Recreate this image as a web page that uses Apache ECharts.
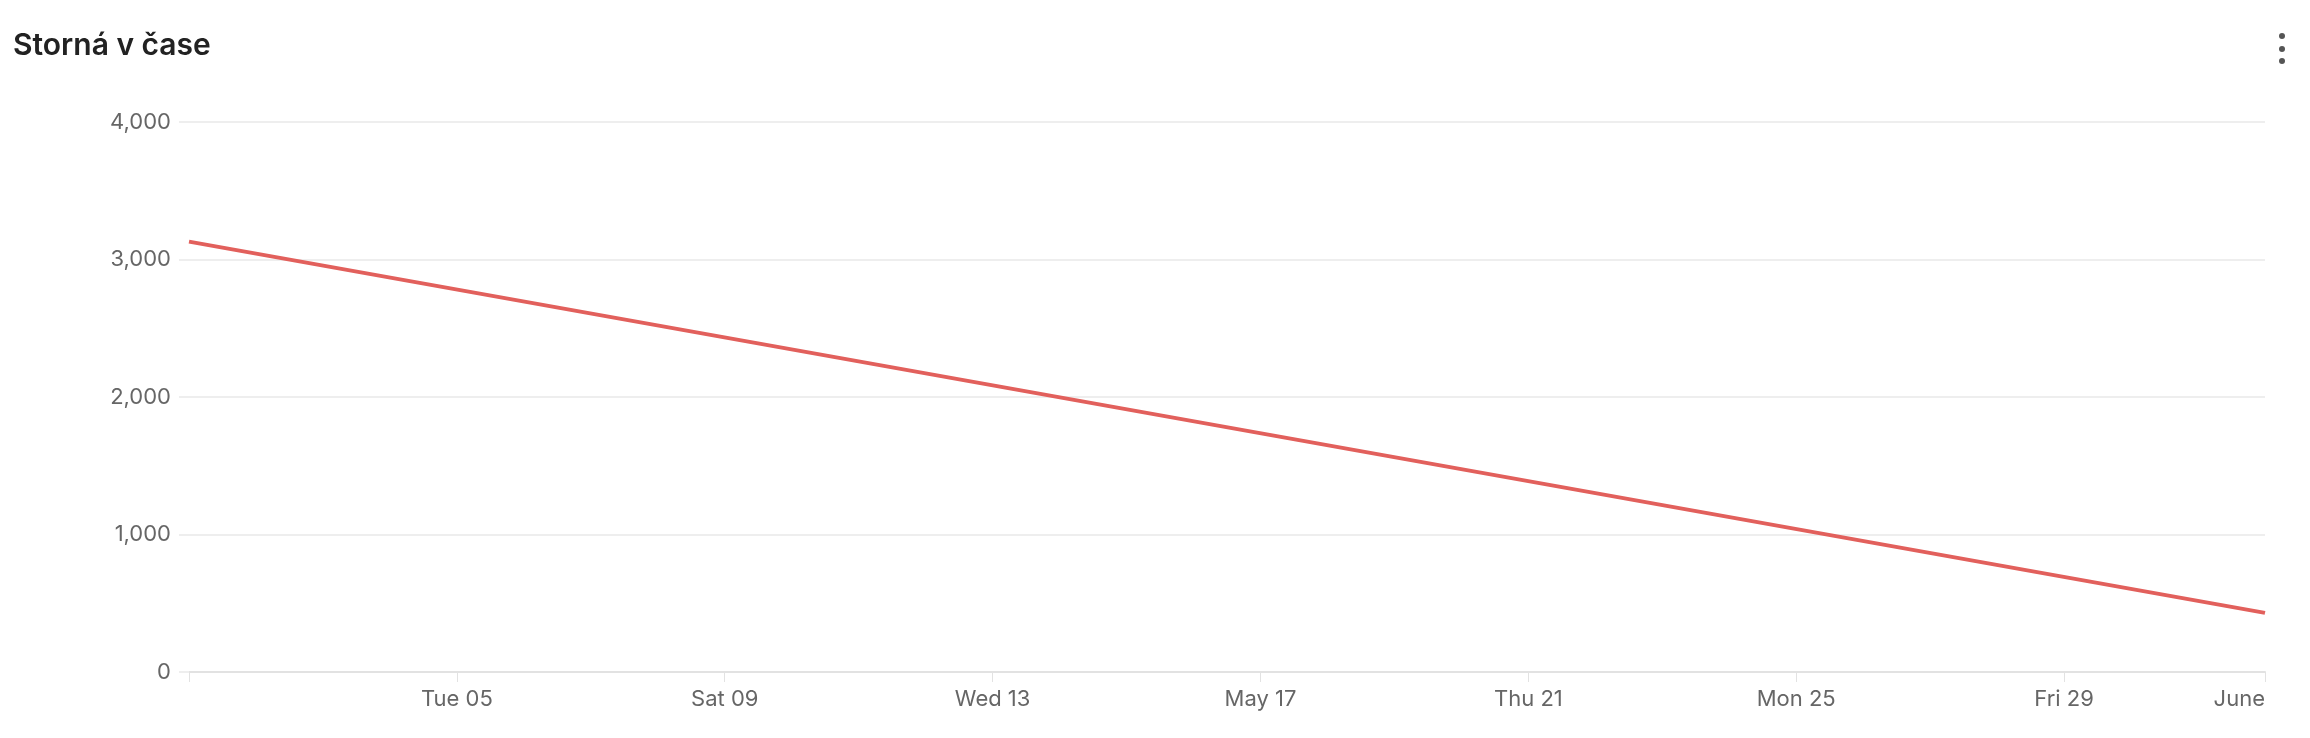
<!DOCTYPE html>
<html>
<head>
<meta charset="utf-8">
<script src="https://cdn.jsdelivr.net/npm/echarts@6/dist/echarts.min.js"></script>
<style>
  html, body { margin: 0; padding: 0; background: #fff; }
  #chart { width: 2310px; height: 738px; }
</style>
</head>
<body>
<div id="chart"></div>
<script>
// data
const dates = ['2026-05-01', '2026-06-01'];
const cancellations = [3130, 430];
const tickDates = ['2026-05-01', '2026-05-05', '2026-05-09', '2026-05-13', '2026-05-17',
  '2026-05-21', '2026-05-25', '2026-05-29', '2026-06-01'];
const tickLabels = ['', 'Tue 05', 'Sat 09', 'Wed 13', 'May 17', 'Thu 21', 'Mon 25', 'Fri 29', 'June'];
const yMax = 4000;
const yStep = 1000;

const toTime = (s) => {
  const [y, m, d] = s.split('-').map(Number);
  return Date.UTC(y, m - 1, d);
};

const tickTimes = tickDates.map(toTime);
const seriesData = dates.map((d, i) => [toTime(d), cancellations[i]]);

const chart = echarts.init(document.getElementById('chart'));

const labelFont = {
  fontFamily: 'Inter',
  fontSize: 22,
  color: '#666666',
};

chart.setOption({
  animation: false,
  title: {
    text: 'Storná v čase',
    left: 8,
    top: 26,
    textStyle: {
      fontFamily: 'Inter',
      fontSize: 30,
      fontWeight: 600,
      color: '#222',
    },
  },
  graphic: [36, 49, 61].map((y) => ({
    type: 'circle',
    shape: { cx: 2282, cy: y, r: 3 },
    style: { fill: '#555' },
  })),
  grid: {
    left: 189,
    right: 45,
    top: 122,
    bottom: 66,
  },
  xAxis: {
    type: 'value',
    min: tickTimes[0],
    max: tickTimes[tickTimes.length - 1],
    axisLine: {
      onZero: false,
      lineStyle: { color: '#e2e2e2', width: 2 },
    },
    axisTick: {
      show: true,
      length: 10,
      customValues: tickTimes,
      lineStyle: { color: '#e2e2e2', width: 1 },
    },
    axisLabel: {
      ...labelFont,
      margin: 16,
      customValues: tickTimes,
      alignMaxLabel: 'right',
      formatter: (val) => {
        const idx = tickTimes.indexOf(val);
        return idx >= 0 ? tickLabels[idx] : '';
      },
    },
    splitLine: { show: false },
  },
  yAxis: {
    type: 'value',
    min: 0,
    max: yMax,
    interval: yStep,
    axisLine: { show: false },
    axisTick: {
      show: true,
      length: 10,
      lineStyle: { color: '#eeeeee', width: 2 },
    },
    axisLabel: {
      ...labelFont,
      margin: 18,
    },
    splitLine: {
      lineStyle: { color: '#eeeeee', width: 2 },
    },
  },
  series: [
    {
      name: 'Storná',
      type: 'line',
      data: seriesData,
      showSymbol: false,
      lineStyle: {
        color: '#e2605c',
        width: 4,
      },
      itemStyle: { color: '#e2605c' },
    },
  ],
});

window.onresize = () => chart.resize();
</script>
</body>
</html>
